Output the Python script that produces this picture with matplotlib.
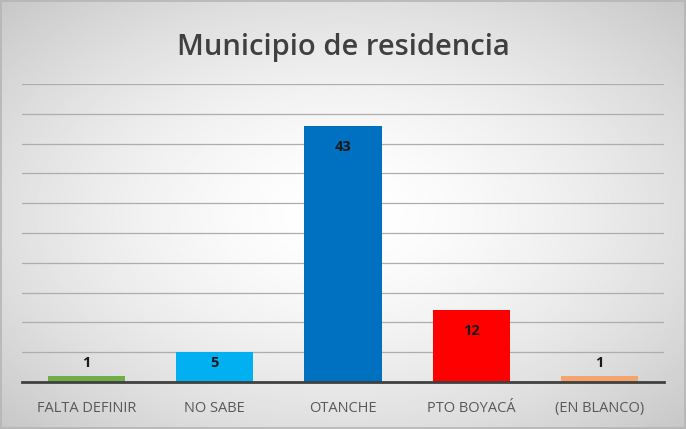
import matplotlib
matplotlib.use('Agg')
import matplotlib.pyplot as plt
import numpy as np

categories = ['FALTA DEFINIR', 'NO SABE', 'OTANCHE', 'PTO BOYACÁ', '(EN BLANCO)']
counts = [1, 5, 43, 12, 1]
bar_colors = ['#70AD47', '#00B0F0', '#0070C0', '#FF0000', '#F4A46C']

plt.rcParams['font.family'] = ['Open Sans', 'DejaVu Sans']

fig = plt.figure(figsize=(6.86, 4.29), dpi=100)

# radial grey background: white centre fading to light grey corners
bg = fig.add_axes([0, 0, 1, 1], zorder=0)
yy, xx = np.mgrid[-1:1:300j, -1:1:480j]
r2 = (xx ** 2 + yy ** 2) / 2
shade = 1.0 - 0.22 * np.clip(r2, 0, 1) ** 0.8
bg.imshow(shade, cmap='gray', vmin=0, vmax=1,
          extent=[0, 1, 0, 1], aspect='auto', interpolation='bilinear')
bg.set_xlim(0, 1)
bg.set_ylim(0, 1)
bg.axis('off')
bg.add_patch(plt.Rectangle((0.001, 0.002), 0.997, 0.995, fill=False,
                           edgecolor='#b5b5b5', linewidth=1.2))

ax = fig.add_axes([22 / 686, 47 / 429, 642 / 686, 298 / 429], zorder=1)
ax.patch.set_alpha(0)

x = np.arange(len(categories))
ax.bar(x, counts, width=0.6, color=bar_colors, zorder=3)
ax.set_xlim(-0.5, len(categories) - 0.5)
ax.set_ylim(0, 50)
ax.set_yticks(np.arange(0, 51, 5))
ax.yaxis.grid(True, color='#adadad', linewidth=0.9, zorder=1)
ax.tick_params(axis='y', left=False, labelleft=False)
ax.tick_params(axis='x', bottom=False, labelsize=10.5, labelcolor='#595959', pad=10)
ax.set_xticks(x)
ax.set_xticklabels(categories)
for side in ['top', 'right', 'left']:
    ax.spines[side].set_visible(False)
ax.spines['bottom'].set_color('#404040')
ax.spines['bottom'].set_linewidth(2)
ax.spines['bottom'].set_zorder(4)

# value labels sit just inside the bar top, but never below a minimum height
for xi, v in zip(x, counts):
    ax.text(xi, max(v - 3.5, 3.2), str(v), ha='center', va='center',
            fontsize=10.5, fontweight='bold', color='#1a1a1a', zorder=5)

fig.text(0.5, 1 - 47 / 429, 'Municipio de residencia', ha='center', va='center',
         fontsize=21, fontweight='semibold', color='#404040')

fig.savefig('out.png', dpi=100)
